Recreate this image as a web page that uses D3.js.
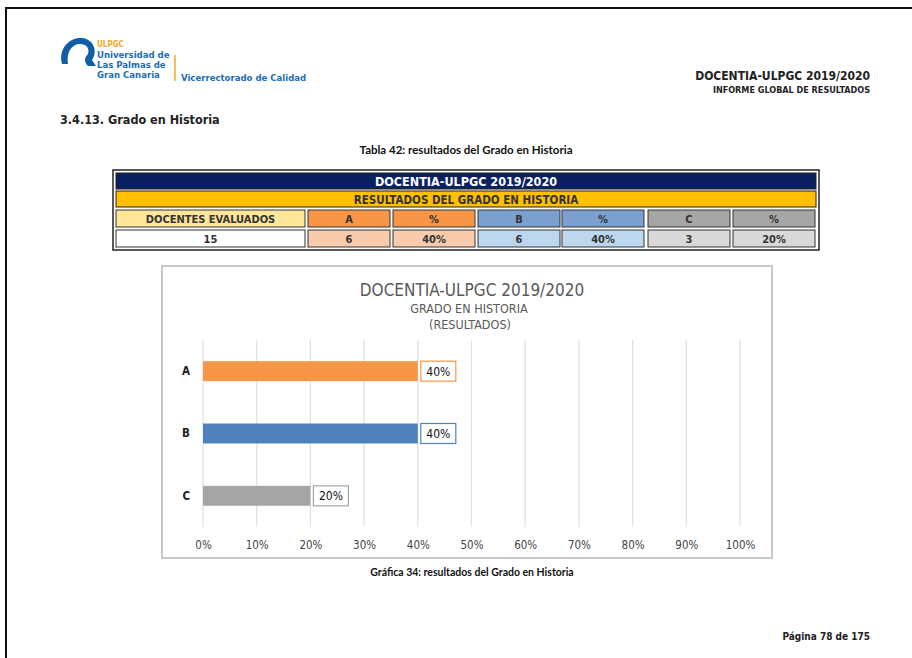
<!DOCTYPE html>
<html>
<head>
<meta charset="utf-8">
<script src="https://cdn.jsdelivr.net/npm/d3@7"></script>
<style>
  html, body { margin: 0; padding: 0; background: #fff; }
  svg { display: block; }
</style>
</head>
<body>
<svg id="page" width="912" height="658"></svg>
<script>
// Result categories and their values
const categories = ["A", "B", "C"];
const percentages = [40, 40, 20];
const teacherCounts = [6, 6, 3];
const totalEvaluated = 15;
const axisTicks = [0, 10, 20, 30, 40, 50, 60, 70, 80, 90, 100];
const barColors = ["#f79646", "#4f81bd", "#a5a5a5"];
const headerColors = ["#f79646", "#7ba0cf", "#a6a6a6"];
const cellColors = ["#f8cbad", "#bdd7ee", "#d9d9d9"];

const svg = d3.select("#page");
const headFont = "'DejaVu Sans Condensed', 'DejaVu Sans', sans-serif";
const bodyFont = "Lato, 'Open Sans', sans-serif";

// page frame
svg.append("path").attr("d", "M6,658 V8 H912").attr("fill", "none")
  .attr("stroke", "#111").attr("stroke-width", 2);

// university logo
const logo = svg.append("g");
logo.append("path")
  .attr("d", "M62,64 C58,48 70,37 82,38 C94,39 98,52 92,60 L96,66 L88,66 C84,62 84,58 88,54 C90,48 86,44 80,44 C72,44 66,52 68,64 Z")
  .attr("fill", "#0f5ea8");
logo.append("text").attr("x", 97).attr("y", 47).text("ULPGC")
  .attr("font-family", headFont).attr("font-size", 8).attr("font-weight", "bold").attr("fill", "#f6a623");
["Universidad de", "Las Palmas de", "Gran Canaria"].forEach((t, i) => {
  logo.append("text").attr("x", 97).attr("y", 58 + i * 10).text(t)
    .attr("font-family", headFont).attr("font-size", 9.5).attr("font-weight", "bold").attr("fill", "#1c6db5");
});
logo.append("line").attr("x1", 175).attr("x2", 175).attr("y1", 55).attr("y2", 81)
  .attr("stroke", "#f6a623").attr("stroke-width", 1.5);
logo.append("text").attr("x", 181).attr("y", 81).text("Vicerrectorado de Calidad")
  .attr("font-family", headFont).attr("font-size", 9.5).attr("font-weight", "bold").attr("fill", "#1c6db5");

// report header (right)
svg.append("text").attr("x", 870).attr("y", 80).attr("text-anchor", "end")
  .text("DOCENTIA-ULPGC 2019/2020")
  .attr("font-family", headFont).attr("font-size", 12).attr("font-weight", "bold").attr("fill", "#222");
svg.append("text").attr("x", 870).attr("y", 93).attr("text-anchor", "end")
  .text("INFORME GLOBAL DE RESULTADOS")
  .attr("font-family", headFont).attr("font-size", 9).attr("font-weight", "bold").attr("fill", "#222");

// section title
svg.append("text").attr("x", 60).attr("y", 124).text("3.4.13. Grado en Historia")
  .attr("font-family", headFont).attr("font-size", 12.5).attr("font-weight", "bold").attr("fill", "#222");

svg.append("text").attr("x", 466).attr("y", 154).attr("text-anchor", "middle")
  .text("Tabla 42: resultados del Grado en Historia")
  .attr("font-family", bodyFont).attr("font-size", 11.5).attr("font-weight", "bold").attr("fill", "#111");

// summary table
const tbl = svg.append("g");
tbl.append("rect").attr("x", 113).attr("y", 170).attr("width", 706).attr("height", 80)
  .attr("fill", "#fff").attr("stroke", "#222").attr("stroke-width", 1.5);
tbl.append("rect").attr("x", 116).attr("y", 173).attr("width", 700).attr("height", 16)
  .attr("fill", "#0b215f").attr("stroke", "#222");
tbl.append("text").attr("x", 466).attr("y", 186).attr("text-anchor", "middle")
  .text("DOCENTIA-ULPGC 2019/2020")
  .attr("font-family", headFont).attr("font-size", 12.5).attr("font-weight", "bold").attr("fill", "#fff");
tbl.append("rect").attr("x", 116).attr("y", 191).attr("width", 700).attr("height", 16)
  .attr("fill", "#ffc000").attr("stroke", "#222");
tbl.append("text").attr("x", 466).attr("y", 203.5).attr("text-anchor", "middle")
  .text("RESULTADOS DEL GRADO EN HISTORIA")
  .attr("font-family", headFont).attr("font-size", 11.5).attr("font-weight", "bold").attr("fill", "#333");

const cols = [{ x: 116, w: 189 }];
const colXs = [308, 393, 478, 562, 648, 733];
colXs.forEach(x => cols.push({ x: x, w: 82 }));
const headRow = [{ t: "DOCENTES EVALUADOS", f: "#ffe699" }];
const dataRow = [{ t: String(totalEvaluated), f: "#ffffff" }];
categories.forEach((c, i) => {
  headRow.push({ t: c, f: headerColors[i] }, { t: "%", f: headerColors[i] });
  dataRow.push({ t: String(teacherCounts[i]), f: cellColors[i] }, { t: percentages[i] + "%", f: cellColors[i] });
});
[[headRow, 210], [dataRow, 230]].forEach(([row, y]) => {
  row.forEach((cell, j) => {
    tbl.append("rect").attr("x", cols[j].x).attr("y", y).attr("width", cols[j].w).attr("height", 17)
      .attr("fill", cell.f).attr("stroke", "#333").attr("stroke-width", 1);
    tbl.append("text").attr("x", cols[j].x + cols[j].w / 2).attr("y", y + 13).attr("text-anchor", "middle")
      .text(cell.t).attr("font-family", headFont).attr("font-size", 11)
      .attr("font-weight", "bold").attr("fill", "#333");
  });
});

// chart frame
const chart = svg.append("g");
chart.append("rect").attr("x", 162).attr("y", 266).attr("width", 610).attr("height", 292)
  .attr("fill", "#fff").attr("stroke", "#c8c8c8").attr("stroke-width", 2);

chart.append("text").attr("x", 472).attr("y", 296).attr("text-anchor", "middle")
  .text("DOCENTIA-ULPGC 2019/2020")
  .attr("font-family", headFont).attr("font-size", 17).attr("fill", "#595959");
chart.append("text").attr("x", 469).attr("y", 313).attr("text-anchor", "middle")
  .text("GRADO EN HISTORIA")
  .attr("font-family", headFont).attr("font-size", 12.5).attr("fill", "#595959");
chart.append("text").attr("x", 470).attr("y", 329).attr("text-anchor", "middle")
  .text("(RESULTADOS)")
  .attr("font-family", headFont).attr("font-size", 12.5).attr("fill", "#595959");

const x = d3.scaleLinear().domain([0, 100]).range([203, 740]);
const y = d3.scaleBand().domain(categories).range([340, 527]).paddingInner(0.68).paddingOuter(0.34);

// vertical gridlines
chart.append("g").selectAll("line").data(axisTicks).join("line")
  .attr("x1", d => x(d)).attr("x2", d => x(d))
  .attr("y1", 340).attr("y2", 527)
  .attr("stroke", "#e0e0e0").attr("stroke-width", 1.2);

// bars
chart.append("g").selectAll("rect").data(categories).join("rect")
  .attr("x", x(0)).attr("y", d => y(d))
  .attr("width", (d, i) => x(percentages[i]) - x(0))
  .attr("height", y.bandwidth())
  .attr("fill", (d, i) => barColors[i]);

// value labels in outlined boxes
const lbl = chart.append("g").selectAll("g").data(categories).join("g")
  .attr("transform", (d, i) => `translate(${x(percentages[i]) + 3},${y(d) + y.bandwidth() / 2})`);
lbl.append("rect").attr("x", 0).attr("y", -10).attr("width", 35).attr("height", 20)
  .attr("fill", "#fff").attr("stroke", (d, i) => barColors[i]).attr("stroke-width", 1.2);
lbl.append("text").attr("x", 17.5).attr("y", 4.5).attr("text-anchor", "middle")
  .text((d, i) => percentages[i] + "%")
  .attr("font-family", headFont).attr("font-size", 12).attr("fill", "#111");

// category axis
const yAxis = chart.append("g").attr("transform", `translate(${x(0)},0)`)
  .call(d3.axisLeft(y).tickSize(0).tickPadding(13));
yAxis.select(".domain").remove();
yAxis.selectAll("text").attr("font-family", headFont).attr("font-size", 11.5)
  .attr("font-weight", "bold").attr("fill", "#222");

// percentage axis
const xAxis = chart.append("g").attr("transform", "translate(0,539)")
  .call(d3.axisBottom(x).tickValues(axisTicks).tickSize(0).tickPadding(2).tickFormat(d => d + "%"));
xAxis.select(".domain").remove();
xAxis.selectAll("text").attr("font-family", headFont).attr("font-size", 11.5).attr("fill", "#444");

svg.append("text").attr("x", 472).attr("y", 576).attr("text-anchor", "middle")
  .text("Gráfica 34: resultados del Grado en Historia")
  .attr("font-family", bodyFont).attr("font-size", 10.5).attr("font-weight", "bold").attr("fill", "#111");

svg.append("text").attr("x", 870).attr("y", 640).attr("text-anchor", "end")
  .text("Página 78 de 175")
  .attr("font-family", headFont).attr("font-size", 10).attr("font-weight", "bold").attr("fill", "#222");
</script>
</body>
</html>
